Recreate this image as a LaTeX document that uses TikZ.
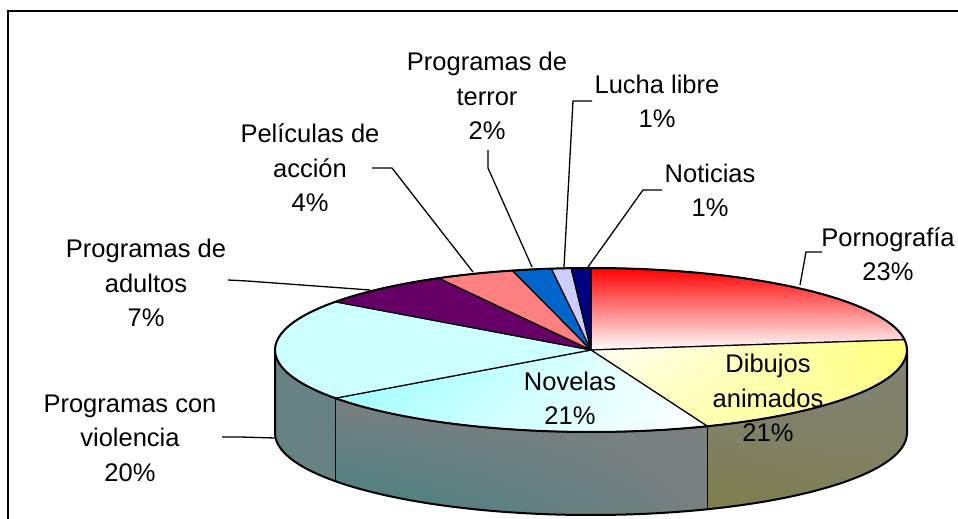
\documentclass[tikz,border=0pt]{standalone}
\usepackage{fontspec}
\setmainfont{Liberation Sans}
\usetikzlibrary{calc,shadings}
\definecolor{violtop}{RGB}{204,255,255}
\definecolor{adulc}{RGB}{102,0,102}
\definecolor{accc}{RGB}{255,128,128}
\definecolor{terrc}{RGB}{0,102,204}
\definecolor{luchc}{RGB}{204,204,255}
\definecolor{notic}{RGB}{0,0,128}
\definecolor{violside}{RGB}{102,130,130}
\definecolor{tealc}{RGB}{64,128,128}
\definecolor{grayc}{RGB}{128,128,128}
\definecolor{olivec}{RGB}{127,127,76}
\definecolor{olivel}{RGB}{130,130,116}
\begin{document}
\begin{tikzpicture}[x=1pt,y=1pt,
  lbl/.style={align=center, font=\fontsize{25.5}{34.5}\selectfont, inner sep=0pt},
  leader/.style={draw=black, line width=1.3pt},
  slice/.style={draw=black, line width=1.2pt, line join=round},
  rim/.style={draw=black, line width=2pt, line join=round},
]
\useasboundingbox (0,0) rectangle (958,519);
\draw[line width=2pt] (8,-20) -- (8,508) -- (980,508);
\coordinate (C) at (591,169);
% sides
\fill[violside] ($(C)+(180:316 and 82)$) arc[start angle=180,end angle=216,x radius=316,y radius=82] -- ++(0,-83) arc[start angle=216,end angle=180,x radius=316,y radius=82] -- cycle;
\shade[lower left=tealc, upper left=grayc!90!tealc, upper right=grayc, lower right=grayc!85!tealc] ($(C)+(216:316 and 82)$) arc[start angle=216,end angle=291.6,x radius=316,y radius=82] -- ++(0,-83) arc[start angle=291.6,end angle=216,x radius=316,y radius=82] -- cycle;
\shade[lower left=olivec, upper left=grayc, upper right=olivel, lower right=olivec!70!grayc] ($(C)+(291.6:316 and 82)$) arc[start angle=291.6,end angle=360,x radius=316,y radius=82] -- ++(0,-83) arc[start angle=360,end angle=291.6,x radius=316,y radius=82] -- cycle;
\draw[slice] ($(C)+(216:316 and 82)$) -- ++(0,-83);
\draw[slice] ($(C)+(291.6:316 and 82)$) -- ++(0,-83);
\draw[rim] ($(C)+(180:316 and 82)$) -- ++(0,-83) arc[start angle=180,end angle=360,x radius=316,y radius=82] -- ++(0,83);
% top slices
\shade[top color=red, middle color=red!28!white, bottom color=white, slice] (C) -- ($(C)+(90:316 and 82)$) arc[start angle=90,end angle=7.2,x radius=316,y radius=82] -- cycle;
\shade[upper left=white, lower left=yellow!25!white, upper right=yellow!55!white, lower right=yellow!45!white, slice] (C) -- ($(C)+(7.2:316 and 82)$) arc[start angle=7.2,end angle=-68.4,x radius=316,y radius=82] -- cycle;
\shade[upper left=cyan!45!white, lower left=cyan!30!white, upper right=white, lower right=white, slice] (C) -- ($(C)+(-68.4:316 and 82)$) arc[start angle=-68.4,end angle=-144,x radius=316,y radius=82] -- cycle;
\filldraw[fill=violtop, slice] (C) -- ($(C)+(216:316 and 82)$) arc[start angle=216,end angle=144,x radius=316,y radius=82] -- cycle;
\filldraw[fill=adulc, slice] (C) -- ($(C)+(144:316 and 82)$) arc[start angle=144,end angle=118.8,x radius=316,y radius=82] -- cycle;
\filldraw[fill=accc, slice] (C) -- ($(C)+(118.8:316 and 82)$) arc[start angle=118.8,end angle=104.4,x radius=316,y radius=82] -- cycle;
\filldraw[fill=terrc, slice] (C) -- ($(C)+(104.4:316 and 82)$) arc[start angle=104.4,end angle=97.2,x radius=316,y radius=82] -- cycle;
\filldraw[fill=luchc, slice] (C) -- ($(C)+(97.2:316 and 82)$) arc[start angle=97.2,end angle=93.6,x radius=316,y radius=82] -- cycle;
\filldraw[fill=notic, slice] (C) -- ($(C)+(93.6:316 and 82)$) arc[start angle=93.6,end angle=90,x radius=316,y radius=82] -- cycle;
\draw[rim] (C) ellipse[x radius=316,y radius=82];
% labels
\node[lbl] (porn) at (888,265) {Pornografía\\23\%};
\node[lbl] (dib) at (768,121) {Dibujos\\animados\\21\%};
\node[lbl] (nov) at (570,120.5) {Novelas\\21\%};
\node[lbl] (viol) at (130,81) {Programas con\\violencia\\20\%};
\node[lbl] (adul) at (146,236) {Programas de\\adultos\\7\%};
\node[lbl] (acc) at (310,351) {Películas de\\acción\\4\%};
\node[lbl] (terr) at (487,423) {Programas de\\terror\\2\%};
\node[lbl] (luch) at (657,417.5) {Lucha libre\\1\%};
\node[lbl] (noti) at (710,328.5) {Noticias\\1\%};
% leader coordinates
\coordinate (pA) at (800,234); \coordinate (pB) at (806,267); \coordinate (pC) at (822,267);
\coordinate (nA) at (588,252); \coordinate (nB) at (643,329); \coordinate (nC) at (662,329);
\coordinate (lA) at (564,252); \coordinate (lB) at (573,418); \coordinate (lC) at (592,418);
\coordinate (tA) at (532,252); \coordinate (tB) at (488,351); \coordinate (tC) at (488,369);
\coordinate (aA) at (473,247); \coordinate (aB) at (392,351); \coordinate (aC) at (372,351);
\coordinate (dA) at (370,229); \coordinate (dB) at (247,238); \coordinate (dC) at (228,239);
\coordinate (vA) at (275,81); \coordinate (vB) at (240,82); \coordinate (vC) at (222,82);
\draw[leader] (pA) -- (pB) -- (pC);
\draw[leader] (nA) -- (nB) -- (nC);
\draw[leader] (lA) -- (lB) -- (lC);
\draw[leader] (tA) -- (tB) -- (tC);
\draw[leader] (aA) -- (aB) -- (aC);
\draw[leader] (dA) -- (dB) -- (dC);
\draw[leader] (vA) -- (vB) -- (vC);
\end{tikzpicture}
\end{document}
